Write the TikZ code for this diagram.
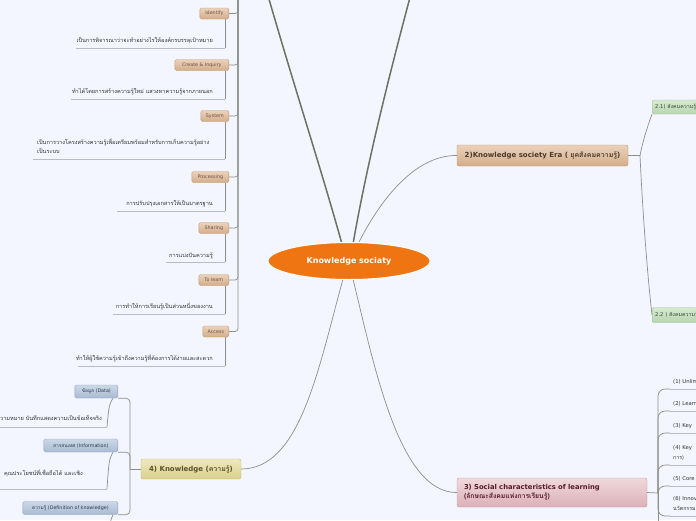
\documentclass[tikz,border=0pt]{standalone}
\usepackage{fontspec}
\setmainfont{DejaVu Sans}
\newfontfamily\thaif[Script=Thai]{Loma}
\usetikzlibrary{shapes.geometric}
\definecolor{bgC}{HTML}{F3F6FE}
\definecolor{orangeC}{HTML}{EE7511}
\definecolor{trunkC}{HTML}{6F6F62}
\definecolor{connC}{HTML}{8E8E88}
\definecolor{ulC}{HTML}{B9BCC4}
\definecolor{descC}{HTML}{333333}
\definecolor{tanT}{HTML}{EBD2BB}
\definecolor{tanB}{HTML}{D3AD8A}
\definecolor{tanD}{HTML}{C09A78}
\definecolor{tanTx}{HTML}{6E5040}
\definecolor{brownTx}{HTML}{4A3A2E}
\definecolor{greenT}{HTML}{D6EAD0}
\definecolor{greenB}{HTML}{B7D5B0}
\definecolor{greenD}{HTML}{9DBF96}
\definecolor{greenTx}{HTML}{3A4A3A}
\definecolor{pinkT}{HTML}{EFD8DB}
\definecolor{pinkB}{HTML}{DBB1B7}
\definecolor{pinkD}{HTML}{C99AA1}
\definecolor{pinkTx}{HTML}{5A1A2A}
\definecolor{yelT}{HTML}{EDE9BC}
\definecolor{yelB}{HTML}{D9D08E}
\definecolor{yelD}{HTML}{C6BC78}
\definecolor{yelTx}{HTML}{5C5230}
\definecolor{blueT}{HTML}{CCD8E7}
\definecolor{blueB}{HTML}{A9BBD2}
\definecolor{blueD}{HTML}{8EA2BC}
\definecolor{blueTx}{HTML}{2B3A52}
\tikzset{
  ks/.style={ellipse, fill=orangeC, draw=white, line width=1pt, text=white,
    font=\bfseries\fontsize{8}{9}\selectfont, minimum width=162, minimum height=37, inner sep=0pt},
  thickln/.style={draw=trunkC, line width=1.5pt},
  conn/.style={draw=connC, line width=0.7pt},
  uline/.style={draw=ulC, line width=0.9pt},
  tanbox/.style={rounded corners=1.5pt, top color=tanT, bottom color=tanB, draw=tanD,
    line width=0.3pt, text=tanTx, font=\fontsize{4.8}{6}\selectfont, inner sep=0pt,
    minimum height=11, anchor=east},
  desc/.style={font=\thaif\fontsize{5.6}{9}\selectfont, text=descC, inner sep=0pt, anchor=base east},
  rdesc/.style={font=\fontsize{5.3}{9.5}\selectfont, text=descC, inner sep=0pt, anchor=base west, align=left},
  mainbox/.style={rounded corners=2pt, line width=0.4pt, inner sep=0pt, font=\bfseries\fontsize{7}{9}\selectfont},
  greenbox/.style={rounded corners=1.5pt, top color=greenT, bottom color=greenB, draw=greenD,
    line width=0.3pt, text=greenTx, font=\fontsize{5.3}{6}\selectfont, inner sep=0pt,
    anchor=west, minimum width=90, text width=84, inner xsep=3},
  bluebox/.style={rounded corners=1.5pt, top color=blueT, bottom color=blueB, draw=blueD,
    line width=0.3pt, text=blueTx, font=\fontsize{4.8}{6}\selectfont, inner sep=0pt,
    minimum height=13, anchor=east}
}
\begin{document}
\begin{tikzpicture}[x=1pt,y=-1pt]
\useasboundingbox (0,0) rectangle (696,520);
\fill[bgC] (0,0) rectangle (696,520);
\clip (0,0) rectangle (696,520);

% ---------- centre ----------
\coordinate (p1) at (262,-25);
\coordinate (p2) at (416,-25);
\node[mainbox, top color=tanT, bottom color=tanB, draw=tanD, text=brownTx,
  minimum width=171, minimum height=21] (n2) at (542.5,155.5)
  {2)Knowledge society Era ( {\thaif ยุคสังคมความรู้})};
\node[mainbox, top color=pinkT, bottom color=pinkB, draw=pinkD, text=pinkTx,
  minimum width=190, minimum height=29, text width=176, align=left,
  font=\bfseries\fontsize{6.8}{9}\selectfont] (n3) at (552,492.5)
  {3) Social characteristics of learning\\{\thaif (ลักษณะสังคมแห่งการเรียนรู้)}};
\node[mainbox, top color=yelT, bottom color=yelB, draw=yelD, text=yelTx,
  minimum width=100, minimum height=20] (n4) at (191,469)
  {4) Knowledge ({\thaif ความรู้})};

\draw[thickln] (342,244) .. controls (320,165) and (295,90) .. (p1);
\draw[thickln] (353,244) .. controls (366,170) and (385,90) .. (p2);
\draw[conn] (358,244) .. controls (380,200) and (415,155) .. (n2.west);
\draw[conn] (343,279) .. controls (318,370) and (300,469) .. (n4.east);
\draw[conn] (353,279) .. controls (375,370) and (400,493) .. (n3.west);
\node[ks] (ks) at (349,261) {Knowledge sociaty};

% ---------- left column ----------
\coordinate (lt) at (238,-10);
\node[tanbox, minimum width=29] (id) at (229,13.5) {Identify};
\node[tanbox, minimum width=54] (cr) at (229,65) {Create \& Inquiry};
\node[tanbox, minimum width=28] (sy) at (229,116) {System};
\node[tanbox, minimum width=37] (pr) at (229,177) {Processing};
\node[tanbox, minimum width=30] (sh) at (229,228) {Sharing};
\node[tanbox, minimum width=30] (tl) at (229,280) {To learn};
\node[tanbox, minimum width=26] (ac) at (229,331.5) {Access};
\foreach \b in {id,cr,sy,pr,sh,tl,ac}{
  \draw[conn, rounded corners=3pt] (lt) -- (lt |- \b.east) -- (\b.east);
}

\node[desc] (idd) at (213,42.5) {เป็นการพิจารณาว่าจะทำอย่างไรให้องค์กรบรรลุเป้าหมาย};
\node[desc] (crd) at (213,93.5) {ทำได้โดยการสร้างความรู้ใหม่ แสวงหาความรู้จากภายนอก};
\node[desc, anchor=north west, align=left] (syd) at (37,139)
  {เป็นการวางโครงสร้างความรู้เพื่อเตรียมพร้อมสำหรับการเก็บความรู้อย่าง\\เป็นระบบ};
\node[desc] (prd) at (213,205.5) {การปรับปรุงเอกสารให้เป็นมาตรฐาน};
\node[desc] (shd) at (213,257) {การแบ่งปันความรู้};
\node[desc] (tld) at (213,308.5) {การทำให้การเรียนรู้เป็นส่วนหนึ่งของงาน};
\node[desc] (acd) at (213,360) {ทำให้ผู้ใช้ความรู้เข้าถึงความรู้ที่ต้องการได้ง่ายและสะดวก};

\coordinate (idu) at (225,48);
\coordinate (cru) at (225,99);
\coordinate (syu) at (225,159);
\coordinate (pru) at (225,211);
\coordinate (shu) at (225,262);
\coordinate (tlu) at (225,314);
\coordinate (acu) at (225,366);
\draw[uline] (idu) -- (76,48);
\draw[uline] (cru) -- (71,99);
\draw[uline] (syu) -- (33,159);
\draw[uline] (pru) -- (117,211);
\draw[uline] (shu) -- (166,262);
\draw[uline] (tlu) -- (113,314);
\draw[uline] (acu) -- (78,366);
\foreach \b/\u in {id/idu,cr/cru,sy/syu,pr/pru,sh/shu,tl/tlu,ac/acu}{
  \draw[conn] (\b.south -| \u) -- (\u);
}

% ---------- 2) children ----------
\coordinate (j2) at (640,155.5);
\node[greenbox, minimum height=14] (n21) at (652,107) {2.1) {\thaif สังคมความรู้}};
\node[greenbox, minimum height=15] (n22) at (652,315) {2.2 ) {\thaif สังคมความรู้}};
\draw[conn] (n2.east) -- (j2);
\draw[conn] (j2) .. controls (643,140) and (648,125) .. (n21.south west);
\draw[conn] (j2) .. controls (643,220) and (648,280) .. (n22.west);

% ---------- 3) children ----------
\coordinate (j3) at (658,493);
\coordinate (j3e) at (658,540);
\draw[conn] (n3.east) -- (j3);
\draw[conn] (j3) -- (j3e);
\node[rdesc] (c1) at (673,383) {(1) Unlimited};
\node[rdesc] (c2) at (673,405) {(2) Learning};
\node[rdesc] (c3) at (673,427) {(3) Key};
\node[rdesc] (c4) at (673,459) {(4) Key\\{\thaif การ)}};
\node[rdesc] (c5) at (673,480) {(5) Core};
\node[rdesc] (c6) at (673,510) {(6) Innovation\\{\thaif นวัตกรรม}};
\foreach \c/\y in {c1/389,c2/411,c3/433,c4/465,c5/486,c6/516}{
  \coordinate (\c u) at (670,\y);
  \draw[uline] (\c u) -- (700,\y);
  \draw[conn, rounded corners=7pt] (j3) -- (j3 |- \c u) -- (\c u);
}

% ---------- 4) children ----------
\coordinate (j4) at (130,469);
\draw[conn] (n4.west) -- (j4);
\node[bluebox, minimum width=43] (da) at (118,391.5) {{\thaif ข้อมูล} (Data)};
\node[bluebox, minimum width=74] (in) at (118,445.5) {{\thaif สารสนเทศ} (Information)};
\node[bluebox, minimum width=95] (de) at (118,508) {{\thaif ความรู้} (Definition of knowledge)};
\foreach \b in {da,in,de}{
  \draw[conn, rounded corners=4pt] (j4) -- (j4 |- \b.south) -- (\b.south east);
}
\node[desc] (dad) at (102,420.5) {ความหมาย บันทึกแสดงความเป็นข้อเท็จจริง};
\node[desc] (ind) at (83,475.5) {คุณประโยชน์ที่เชื่อถือได้ และเชิง};
\coordinate (dau) at (107,427);
\coordinate (inu) at (107,489);
\coordinate (deu) at (109,535);
\draw[uline] (dau) -- (-5,427);
\draw[uline] (inu) -- (-5,489);
\draw[conn] (da.south east) ++(-5,0) .. controls (109,405) .. (dau);
\draw[conn] (in.south east) ++(-5,0) .. controls (109,460) .. (inu);
\draw[conn] (de.south east) ++(-5,0) .. controls (110,522) .. (deu);
\end{tikzpicture}
\end{document}
